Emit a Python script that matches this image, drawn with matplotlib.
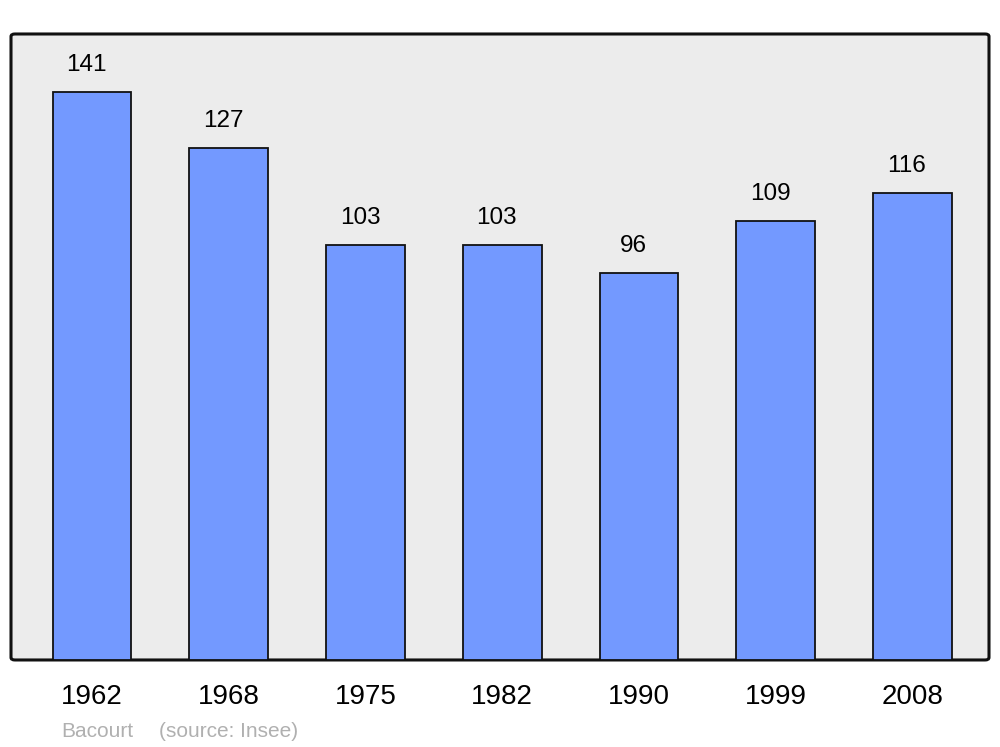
import matplotlib
matplotlib.use("Agg")
import matplotlib.pyplot as plt
from matplotlib.patches import FancyBboxPatch

# 人口数据
年份 = ["1962", "1968", "1975", "1982", "1990", "1999", "2008"]
人口 = [141, 127, 103, 103, 96, 109, 116]
市镇 = "Bacourt"
来源 = "(source: Insee)"

plt.rcParams["font.family"] = ["Liberation Sans", "DejaVu Sans"]

fig = plt.figure(figsize=(10, 7.47), dpi=100)
ax = fig.add_axes([0.011, 0.1165, 0.978, 0.838])
ax.set_facecolor("none")

# 圆角背景框
背景 = FancyBboxPatch((0, 0), 1, 1, boxstyle="round,pad=0,rounding_size=0.004",
                    transform=ax.transAxes, facecolor="#ececec", edgecolor="#111111",
                    linewidth=2.2, zorder=0, clip_on=False)
ax.add_patch(背景)

位置 = list(range(len(年份)))
ax.bar(位置, 人口, width=0.575, color="#7399ff", edgecolor="#111111",
       linewidth=1.3, zorder=2)

for x, v in zip(位置, 人口):
    ax.annotate(str(v), (x, v), xytext=(-4, 19.5), textcoords="offset points",
                ha="center", va="center", fontsize=17.5, color="black")

ax.set_xlim(-0.593, 6.56)
ax.set_ylim(0, 155.4)
for s in ax.spines.values():
    s.set_visible(False)
ax.set_yticks([])
ax.set_xticks(位置)
ax.set_xticklabels(年份, fontsize=20)
ax.tick_params(axis="x", length=0, pad=17)

fig.text(0.061, 0.021, 市镇, fontsize=15, color="#b0b0b0", ha="left", va="center")
fig.text(0.159, 0.021, 来源, fontsize=15, color="#b0b0b0", ha="left", va="center")

fig.savefig("out.png", dpi=100)
